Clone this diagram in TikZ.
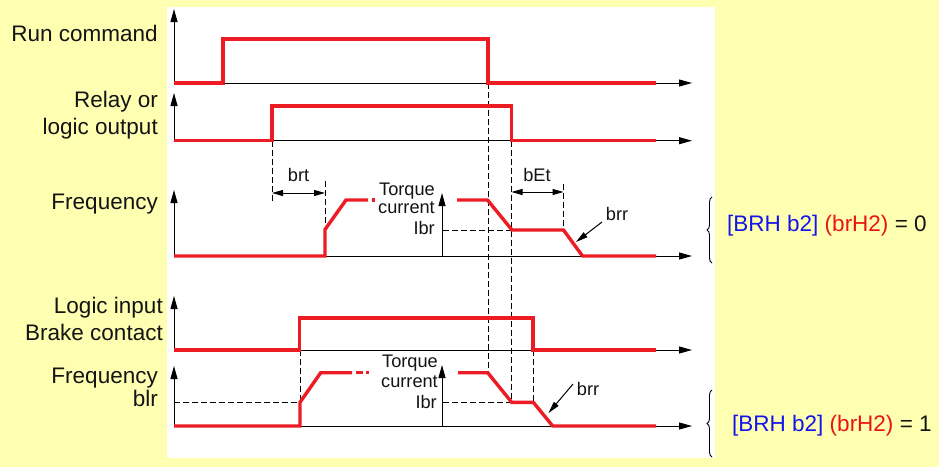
\documentclass[tikz,border=0pt]{standalone}
\usepackage{fontspec}
\setmainfont{Liberation Sans}
\usetikzlibrary{arrows.meta,decorations.pathreplacing}
\definecolor{bgyellow}{RGB}{255,255,178}
\definecolor{sigred}{RGB}{237,28,36}
\definecolor{txt}{RGB}{20,20,20}
\definecolor{lblblue}{RGB}{20,20,235}
\definecolor{lblred}{RGB}{235,20,20}
\begin{document}
\begin{tikzpicture}[x=1pt,y=-1pt,
  axis/.style={line width=1pt, draw=black, -{Triangle[length=13pt,width=7pt]}},
  sig/.style={line width=3.4pt, draw=sigred, line join=miter},
  guide/.style={line width=0.9pt, draw=black, dash pattern=on 6pt off 3pt},
  dimarrow/.style={line width=1pt, {Triangle[length=11pt,width=6pt]}-{Triangle[length=11pt,width=6pt]}},
  ptr/.style={line width=1pt, -{Triangle[length=12pt,width=6pt]}},
  lbl/.style={font=\fontsize{22.5}{27}\selectfont, text=txt, inner sep=0pt},
  small/.style={font=\fontsize{18.2}{21}\selectfont, text=txt, inner sep=0pt},
  bracestyle/.style={line width=0.9pt, decorate, decoration={brace, amplitude=5pt}},
]
\fill[bgyellow] (0,0) rectangle (939,467);
\fill[white] (167,7) rectangle (715,458);
\useasboundingbox (0,0) rectangle (939,467);

% left labels
\node[lbl, anchor=base east] (lrun) at (158,41) {Run command};
\node[lbl, anchor=base east] (lrel1) at (158,107) {Relay or};
\node[lbl, anchor=base east] (lrel2) at (158,134) {logic output};
\node[lbl, anchor=base east] (lfreq1) at (158,209) {Frequency};
\node[lbl, anchor=base east] (llog1) at (163,313) {Logic input};
\node[lbl, anchor=base east] (llog2) at (163,340) {Brake contact};
\node[lbl, anchor=base east] (lfreq2) at (158,383) {Frequency};
\node[lbl, anchor=base east] (lblr) at (158,406) {blr};

% guides (dashed)
\draw[guide] (272,140.7) -- (272,202);
\draw[guide] (325,181) -- (325,229.5);
\draw[guide] (488,83) -- (488,372.7);
\draw[guide] (511.5,140.7) -- (511.5,402.3);
\draw[guide] (563.5,184) -- (563.5,230);
\draw[guide] (443,230) -- (512,230);
\draw[guide] (174,402.3) -- (300,402.3);
\draw[guide] (443,402.3) -- (511.5,402.3);
\draw[guide] (300,350) -- (300,402.3);
\draw[guide] (533,350) -- (533,402.3);

% axes
\foreach \b/\t in {83/9, 140.7/93, 256/190, 350/296, 426/366}{
  \draw[axis] (174,\b) -- (174,\t);
  \draw[axis] (174,\b) -- (692,\b);
}
\draw[axis] (442,256) -- (442,193);
\draw[axis] (442,426) -- (442,365);

% signals
\draw[sig] (174,83) -- (223,83) -- (223,39) -- (488,39) -- (488,83) -- (656,83);
\draw[sig] (174,140.7) -- (272,140.7) -- (272,106) -- (511.5,106) -- (511.5,140.7) -- (656,140.7);
\draw[sig] (174,256) -- (325,256) -- (325,229.5) -- (346,200) -- (368,200);
\draw[sig] (371.5,200) -- (375,200);
\draw[sig] (457,200) -- (487.5,200) -- (512,230) -- (563.5,230) -- (582.5,256) -- (656,256);
\draw[sig] (174,350) -- (299.5,350) -- (299.5,318) -- (533,318) -- (533,350) -- (656,350);
\draw[sig] (174,426) -- (300,426) -- (300,402.3) -- (320.7,372.7) -- (352,372.7);
\draw[sig] (356,372.7) -- (363,372.7);
\draw[sig] (366,372.7) -- (369,372.7);
\draw[sig] (458,372.7) -- (487.7,372.7) -- (511.7,402.3) -- (533.3,402.3) -- (552.7,426) -- (656,426);

% dimension arrows
\draw[dimarrow] (272,193) -- (325,193);
\draw[dimarrow] (511.5,192) -- (563.5,192);
\node[small, anchor=base] (tbrt) at (298.6,181) {brt};
\node[small, anchor=base] (tbet) at (537,181.5) {bEt};

% torque current labels
\node[small, anchor=base east] (tq1) at (435,195) {Torque};
\node[small, anchor=base east] (cu1) at (435,213.5) {current};
\node[small, anchor=base east] (ib1) at (435,234) {Ibr};
\node[small, anchor=base east] (tq2) at (438,367.5) {Torque};
\node[small, anchor=base east] (cu2) at (438,387) {current};
\node[small, anchor=base east] (ib2) at (437,408) {Ibr};

% brr pointers
\node[small, anchor=base] (brr1) at (617,220) {brr};
\node[small, anchor=base] (brr2) at (588,395) {brr};
\coordinate (p1) at (576,242);
\coordinate (p2) at (548.5,413);
\draw[ptr] (602,222) -- (p1);
\draw[ptr] (573,384) -- (p2);

% braces
\draw[bracestyle] (712,263) -- (712,197);
\draw[bracestyle] (712,457) -- (712,390);

% right labels
\node[lbl, anchor=base west] (r1) at (727,231) {\textcolor{lblblue}{[BRH b2]} \textcolor{lblred}{(brH2)} = 0};
\node[lbl, anchor=base west] (r2) at (732,431) {\textcolor{lblblue}{[BRH b2]} \textcolor{lblred}{(brH2)} = 1};
\end{tikzpicture}
\end{document}
